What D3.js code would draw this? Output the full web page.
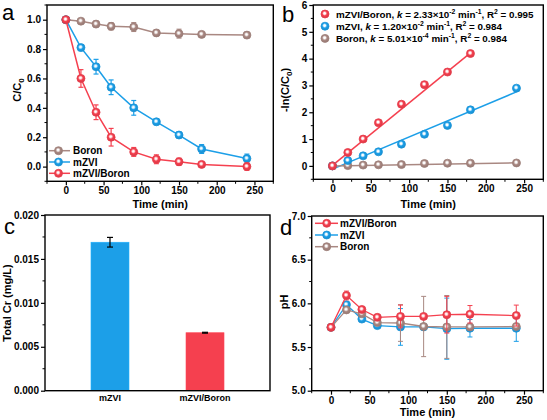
<!DOCTYPE html>
<html><head><meta charset="utf-8">
<script src="https://cdn.jsdelivr.net/npm/d3@7"></script>
<style>
body{margin:0;background:#fff}
svg{display:block}
text{font-family:"Liberation Sans",Arial,sans-serif;fill:#000}
</style>
</head><body>
<svg id="chart" width="547" height="420"></svg>
<script>
// ---------- DATA ----------
const times = [0, 20, 40, 60, 90, 120, 150, 180, 240];

// panel a : C/C0
const aBoron     = [1.0, 0.99, 0.97, 0.955, 0.95, 0.91, 0.905, 0.90, 0.895];
const aBoronErr  = [0.0, 0.01, 0.02, 0.025, 0.03, 0.02, 0.03, 0.02, 0.02];
const aMZVI      = [1.0, 0.81, 0.68, 0.54, 0.40, 0.305, 0.215, 0.12, 0.055];
const aMZVIErr   = [0.0, 0.02, 0.05, 0.05, 0.05, 0.02, 0.02, 0.03, 0.03];
const aMB        = [1.0, 0.60, 0.37, 0.20, 0.10, 0.05, 0.033, 0.015, 0.0];
const aMBErr     = [0.0, 0.06, 0.05, 0.06, 0.03, 0.03, 0.025, 0.01, 0.025];

// panel b : -ln(C/C0)
const bTimesMB   = [0, 20, 40, 60, 90, 120, 150, 180];
const bMB        = [0, 0.50, 1.00, 1.61, 2.30, 3.03, 3.50, 4.19];
const bMZVI      = [0, 0.20, 0.375, 0.525, 0.81, 1.18, 1.51, 2.09, 2.90];
const bBoron     = [0, 0.01, 0.03, 0.04, 0.05, 0.09, 0.10, 0.10, 0.11];
const fitK       = [0.0233, 0.0120, 0.000501];   // mZVI/Boron, mZVI, Boron
const fitB       = [0.02, -0.12, -0.005];
const fitEnd     = [180, 240, 240];
const kLabels    = ["2.33×10", "1.20×10", "5.01×10"];
const kExp       = ["-2", "-2", "-4"];
const r2Labels   = ["0.995", "0.984", "0.984"];

// panel c : Total Cr
const cCats   = ["mZVI", "mZVI/Boron"];
const cVals   = [0.0169, 0.0066];
const cErr    = [0.00055, 0.00005];

// panel d : pH
const dMB      = [5.725, 6.09, 5.93, 5.84, 5.85, 5.85, 5.87, 5.875, 5.86];
const dMBErr   = [0, 0.05, 0.03, 0.02, 0.13, 0.02, 0.21, 0.10, 0.12];
const dMZVI    = [5.725, 5.985, 5.82, 5.745, 5.73, 5.73, 5.71, 5.715, 5.715];
const dMZVIErr = [0, 0.03, 0.03, 0.02, 0.21, 0.02, 0.35, 0.10, 0.15];
const dBoron   = [5.725, 5.925, 5.88, 5.78, 5.775, 5.735, 5.73, 5.73, 5.735];
const dBoronErr= [0, 0.02, 0.02, 0.02, 0.21, 0.345, 0.36, 0.03, 0.02];

// tick labels
const timeTicks = [0, 50, 100, 150, 200, 250];
const aYTicks = [0.0, 0.2, 0.4, 0.6, 0.8, 1.0];
const bYTicks = [0, 1, 2, 3, 4, 5, 6];
const cYTicks = [0.000, 0.005, 0.010, 0.015, 0.020];
const dYTicks = [5.0, 5.5, 6.0, 6.5, 7.0];

// ---------- STYLE ----------
const COL = {boron: "#a98882", mzvi: "#1c9fe8", mb: "#f5404f"};
const svg = d3.select("#chart");
const defs = svg.append("defs");
function grad(id, c) {
  const g = defs.append("radialGradient").attr("id", id).attr("cx", "45%").attr("cy", "42%").attr("r", "60%");
  g.append("stop").attr("offset", "0%").attr("stop-color", "#fff");
  g.append("stop").attr("offset", "18%").attr("stop-color", "#fff").attr("stop-opacity", 0.9);
  g.append("stop").attr("offset", "50%").attr("stop-color", c);
  g.append("stop").attr("offset", "100%").attr("stop-color", d3.color(c).darker(0.4));
}
grad("gB", COL.boron); grad("gZ", COL.mzvi); grad("gM", COL.mb);
const GR = {boron: "url(#gB)", mzvi: "url(#gZ)", mb: "url(#gM)"};

function frame(g, x0, x1, y0, y1) {
  g.append("rect").attr("x", x0).attr("y", y0).attr("width", x1 - x0).attr("height", y1 - y0)
    .attr("fill", "none").attr("stroke", "#000").attr("stroke-width", 1.4);
}
function styleTicks(a) {
  a.select(".domain").remove();
  a.selectAll("line").attr("stroke-width", 1.2);
  a.selectAll("text").attr("font-size", 10).style("font-family", "'Liberation Sans', Arial, sans-serif").style("font-weight", "bold");
}
function xAxis(g, x, yPix, ticks, minor) {
  const ax = d3.axisBottom(x).tickValues(ticks).tickSize(4).tickSizeOuter(0).tickPadding(2).tickFormat(d3.format("d"));
  const a = g.append("g").attr("transform", `translate(0,${yPix})`).call(ax);
  styleTicks(a);
  if (minor) {
    g.append("g").selectAll("line").data(minor).join("line")
      .attr("x1", d => x(d)).attr("x2", d => x(d)).attr("y1", yPix).attr("y2", yPix + 2.5)
      .attr("stroke", "#000").attr("stroke-width", 1);
  }
}
function yAxis(g, y, xPix, ticks, fmt, minor) {
  const ax = d3.axisLeft(y).tickValues(ticks).tickSize(4).tickSizeOuter(0).tickPadding(2).tickFormat(fmt);
  const a = g.append("g").attr("transform", `translate(${xPix},0)`).call(ax);
  styleTicks(a);
  if (minor) {
    g.append("g").selectAll("line").data(minor).join("line")
      .attr("x1", xPix - 2.5).attr("x2", xPix).attr("y1", d => y(d)).attr("y2", d => y(d))
      .attr("stroke", "#000").attr("stroke-width", 1);
  }
}
function marker(g, cx, cy, key, r) {
  g.append("circle").attr("cx", cx).attr("cy", cy).attr("r", r || 4)
    .attr("fill", GR[key]).attr("stroke", d3.color(COL[key]).darker(0.2)).attr("stroke-width", 0.8);
}
function series(g, x, y, xs, ys, errs, key, lw, ew) {
  const c = COL[key];
  g.append("path").attr("d", d3.line().x((d, i) => x(xs[i])).y(d => y(d))(ys))
    .attr("fill", "none").attr("stroke", c).attr("stroke-width", lw || 1.5);
  if (errs) {
    ys.forEach((v, i) => {
      const e = errs[i]; if (!e) return;
      const px = x(xs[i]);
      g.append("line").attr("x1", px).attr("x2", px).attr("y1", y(v + e)).attr("y2", y(v - e)).attr("stroke", c).attr("stroke-width", ew || 1.2);
      [v + e, v - e].forEach(t => g.append("line").attr("x1", px - 2.5).attr("x2", px + 2.5).attr("y1", y(t)).attr("y2", y(t)).attr("stroke", c).attr("stroke-width", ew || 1.2));
    });
  }
  ys.forEach((v, i) => marker(g, x(xs[i]), y(v), key));
}
function label(txt, x, y, size, weight, anchor) {
  return svg.append("text").attr("x", x).attr("y", y).attr("font-size", size)
    .style("font-weight", weight || "bold").attr("text-anchor", anchor || "middle").text(txt);
}
function vlabel(x, y, size) {
  return svg.append("text").attr("transform", `translate(${x},${y}) rotate(-90)`).attr("text-anchor", "middle")
    .attr("font-size", size).style("font-weight", "bold");
}
const minorT = [-25, 25, 75, 125, 175, 225, 275];

// ---------- PANEL A ----------
{
  const L = 47, R = 273.3, T = 5, B = 181.3;
  const x = d3.scaleLinear().domain([-25, 275]).range([L, R]);
  const y = d3.scaleLinear().domain([-0.1, 1.1]).range([B, T]);
  const g = svg.append("g");
  series(g, x, y, times, aBoron, aBoronErr, "boron");
  series(g, x, y, times, aMZVI, aMZVIErr, "mzvi");
  series(g, x, y, times, aMB, aMBErr, "mb");
  frame(g, L, R, T, B);
  xAxis(g, x, B, timeTicks, minorT);
  yAxis(g, y, L, aYTicks, d3.format(".1f"), [-0.1, 0.1, 0.3, 0.5, 0.7, 0.9, 1.1]);
  const leg = [["Boron", "boron"], ["mZVI", "mzvi"], ["mZVI/Boron", "mb"]];
  leg.forEach((d, i) => {
    const yy = 150.7 + i * 11.3;
    g.append("line").attr("x1", 49).attr("x2", 70).attr("y1", yy).attr("y2", yy).attr("stroke", COL[d[1]]).attr("stroke-width", 1.5);
    marker(g, 58.5, yy, d[1]);
    label(d[0], 73, yy + 3.6, 10, "bold", "start");
  });
  label("a", 2, 20, 22, "normal", "start");
  label("Time (min)", x(125), 208, 11);
  const t = vlabel(21, 90, 11);
  t.append("tspan").text("C/C");
  t.append("tspan").attr("font-size", 8).attr("dy", 3).text("0");
}

// ---------- PANEL B ----------
{
  const L = 313.3, R = 543.3, T = 5, B = 179.3;
  const x = d3.scaleLinear().domain([-25, 275]).range([L, R]);
  const y = d3.scaleLinear().domain([-0.5, 6]).range([B, T]);
  const g = svg.append("g");
  const keys = ["mb", "mzvi", "boron"];
  keys.forEach((k, i) => {
    g.append("line").attr("x1", x(0)).attr("x2", x(fitEnd[i])).attr("y1", y(fitB[i])).attr("y2", y(fitB[i] + fitK[i] * fitEnd[i]))
      .attr("stroke", COL[k]).attr("stroke-width", 1.5);
  });
  bBoron.forEach((v, i) => marker(g, x(times[i]), y(v), "boron"));
  bMZVI.forEach((v, i) => marker(g, x(times[i]), y(v), "mzvi"));
  bMB.forEach((v, i) => marker(g, x(bTimesMB[i]), y(v), "mb"));
  frame(g, L, R, T, B);
  xAxis(g, x, B, timeTicks, minorT);
  yAxis(g, y, L, bYTicks, d3.format("d"), [-0.5, 0.5, 1.5, 2.5, 3.5, 4.5, 5.5]);
  const names = ["mZVI/Boron", "mZVI", "Boron"];
  names.forEach((n, i) => {
    const yy = 14 + i * 12.2;
    marker(g, 325, yy, keys[i]);
    const t = svg.append("text").attr("x", 336).attr("y", yy + 3.7).attr("font-size", 9.8).style("font-weight", "bold");
    t.append("tspan").text(n + ", ");
    t.append("tspan").style("font-style", "italic").text("k");
    t.append("tspan").text(" = " + kLabels[i]);
    t.append("tspan").attr("font-size", 6.8).attr("dy", -4).text(kExp[i]);
    t.append("tspan").attr("dy", 4).text(" min");
    t.append("tspan").attr("font-size", 6.8).attr("dy", -4).text("-1");
    t.append("tspan").attr("dy", 4).text(", R");
    t.append("tspan").attr("font-size", 6.8).attr("dy", -4).text("2");
    t.append("tspan").attr("dy", 4).text(" = " + r2Labels[i]);
  });
  label("b", 282, 22, 22, "normal", "start");
  label("Time (min)", x(125), 208, 11);
  const t = vlabel(289, 90, 11);
  t.append("tspan").text("-ln(C/C");
  t.append("tspan").attr("font-size", 8).attr("dy", 3).text("0");
  t.append("tspan").attr("dy", -3).text(")");
}

// ---------- PANEL C ----------
{
  const L = 45, R = 270, T = 215, B = 390.7;
  const x = d3.scalePoint().domain(cCats).range([L, R]).padding(0.684);
  const y = d3.scaleLinear().domain([0, 0.02]).range([B, T]);
  const g = svg.append("g");
  const bw = 38;
  const bc = [COL.mzvi, COL.mb];
  cCats.forEach((c, i) => {
    g.append("rect").attr("x", x(c) - bw / 2).attr("y", y(cVals[i])).attr("width", bw).attr("height", B - y(cVals[i]))
      .attr("fill", bc[i]).attr("stroke", d3.color(bc[i]).brighter(0.3)).attr("stroke-width", 0.6);
    const e = cErr[i], px = x(c);
    g.append("line").attr("x1", px).attr("x2", px).attr("y1", y(cVals[i] + e)).attr("y2", y(cVals[i] - e)).attr("stroke", "#000").attr("stroke-width", 1.2);
    [cVals[i] + e, cVals[i] - e].forEach(t => g.append("line").attr("x1", px - 3).attr("x2", px + 3).attr("y1", y(t)).attr("y2", y(t)).attr("stroke", "#000").attr("stroke-width", 1.2));
    label(c, px, 401, 9, "bold");
  });
  frame(g, L, R, T, B);
  yAxis(g, y, L, cYTicks, d3.format(".3f"), [0.0025, 0.0075, 0.0125, 0.0175]);
  label("c", 4, 234, 22, "normal", "start");
  vlabel(11, 303, 11).text("Total Cr (mg/L)");
}

// ---------- PANEL D ----------
{
  const L = 311.7, R = 543.3, T = 216, B = 390.7;
  const x = d3.scaleLinear().domain([-25, 275]).range([L, R]);
  const y = d3.scaleLinear().domain([5, 7]).range([B, T]);
  const g = svg.append("g");
  series(g, x, y, times, dMZVI, dMZVIErr, "mzvi", 1.3, 1);
  series(g, x, y, times, dBoron, dBoronErr, "boron", 1.3, 1);
  series(g, x, y, times, dMB, dMBErr, "mb", 1.3, 1);
  frame(g, L, R, T, B);
  xAxis(g, x, B, timeTicks, minorT);
  yAxis(g, y, L, dYTicks, d3.format(".1f"), [5.25, 5.75, 6.25, 6.75]);
  const leg = [["mZVI/Boron", "mb"], ["mZVI", "mzvi"], ["Boron", "boron"]];
  leg.forEach((d, i) => {
    const yy = 223.3 + i * 11.7;
    g.append("line").attr("x1", 315).attr("x2", 338).attr("y1", yy).attr("y2", yy).attr("stroke", COL[d[1]]).attr("stroke-width", 1.5);
    marker(g, 326.7, yy, d[1]);
    label(d[0], 340, yy + 3.6, 10, "bold", "start");
  });
  label("d", 280, 235, 22, "normal", "start");
  label("Time (min)", x(125), 416, 11);
  vlabel(288, 302, 11).text("pH");
}
</script>
</body></html>
